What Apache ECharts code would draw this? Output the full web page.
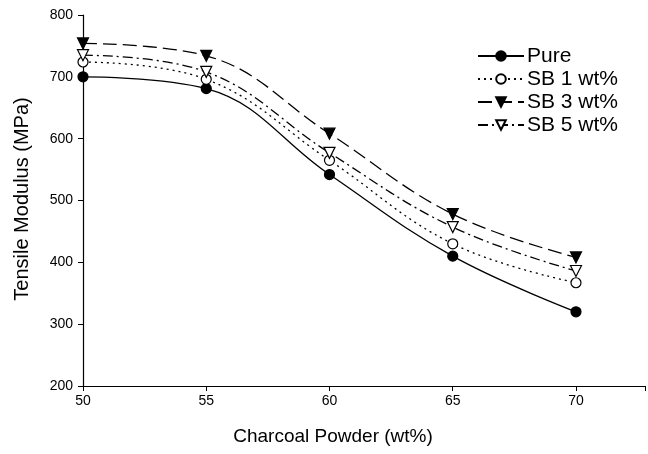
<!DOCTYPE html>
<html>
<head>
<meta charset="utf-8">
<script src="https://cdn.jsdelivr.net/npm/echarts@6/dist/echarts.min.js"></script>
<style>html,body{margin:0;padding:0;background:#fff}#c{width:648px;height:454px}</style>
</head>
<body>
<div id="c"></div>
<script>
const xValues = [50, 55, 60, 65, 70];
const pure = [700, 681, 542, 410, 320];
const sb1 = [724, 696, 565, 430, 367];
const sb3 = [754, 734, 608, 478, 408];
const sb5 = [735, 708, 577, 457, 386];
const seriesNames = ['Pure', 'SB 1 wt%', 'SB 3 wt%', 'SB 5 wt%'];

const font = 'Liberation Sans, Arial, sans-serif';
function pairs(v) { return xValues.map((x, i) => [x, v[i]]); }
function mk(name, data, symbol, filled, dash) {
  return {
    name, type: 'line', smooth: 0.4, data: pairs(data),
    symbol: symbol === 'circle' ? 'circle' : 'triangle',
    symbolRotate: symbol === 'circle' ? 0 : 180,
    symbolSize: symbol === 'circle' ? 10 : 11,
    lineStyle: { color: '#000', width: 1.3, type: dash },
    itemStyle: { color: filled ? '#000' : '#fff', borderColor: '#000', borderWidth: 1.2 },
    emphasis: { disabled: true },
    z: 3
  };
}
const chart = echarts.init(document.getElementById('c'), null, { renderer: 'canvas' });
chart.setOption({
  animation: false,
  backgroundColor: '#fff',
  grid: { left: 83, right: 0, top: 15, bottom: 68 },
  xAxis: {
    type: 'value', min: 50, max: 72.8, interval: 5,
    axisLine: { lineStyle: { color: '#000', width: 1.2 } },
    axisTick: { show: true, length: 5, lineStyle: { color: '#000' } },
    axisLabel: { color: '#000', fontFamily: font, fontSize: 14, margin: 8,
      formatter: v => (v <= 70 ? String(v) : '') },
    splitLine: { show: false }
  },
  yAxis: {
    type: 'value', min: 200, max: 800, interval: 100,
    axisLine: { show: true, lineStyle: { color: '#000', width: 1.2 } },
    axisTick: { show: true, length: 5, lineStyle: { color: '#000' } },
    axisLabel: { color: '#000', fontFamily: font, fontSize: 14, margin: 10 },
    splitLine: { show: false }
  },
  legend: {
    left: 472, top: 40, orient: 'vertical', itemWidth: 46, itemHeight: 12, itemGap: 1,
    textStyle: { color: '#000', fontFamily: font, fontSize: 21, lineHeight: 22, padding: [0, 0, 0, -2] },
    data: seriesNames
  },
  graphic: [
    { type: 'text', x: 333, y: 437, style: { text: 'Charcoal Powder (wt%)', fill: '#000', font: '19px ' + font, textAlign: 'center', textVerticalAlign: 'middle' } },
    { type: 'text', x: 22, y: 199, rotation: Math.PI / 2, style: { text: 'Tensile Modulus (MPa)', fill: '#000', font: '20px ' + font, textAlign: 'center', textVerticalAlign: 'middle' } }
  ],
  series: [
    mk(seriesNames[0], pure, 'circle', true, 'solid'),
    mk(seriesNames[1], sb1, 'circle', false, [2, 4]),
    mk(seriesNames[2], sb3, 'tri', true, [14, 6]),
    mk(seriesNames[3], sb5, 'tri', false, [10, 4, 2, 4])
  ]
});
</script>
</body>
</html>
